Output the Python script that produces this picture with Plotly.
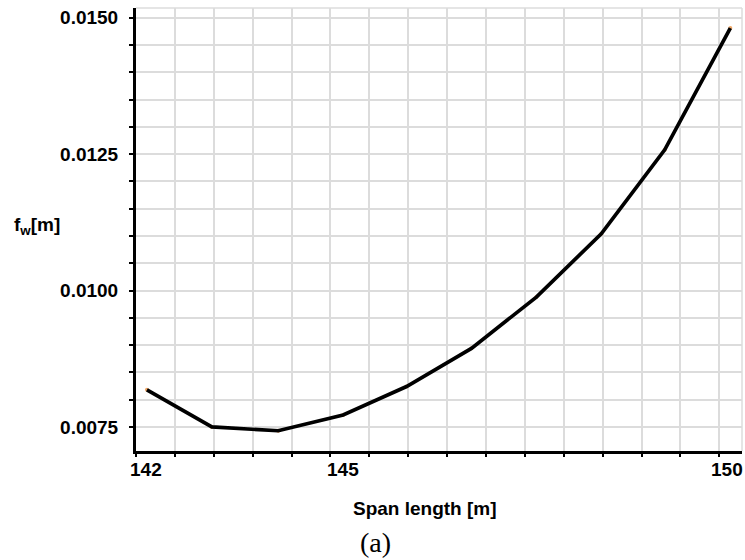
import plotly.graph_objects as go

# Span length [m] and the corresponding f_w [m]
span_length = [142.0, 142.89, 143.8, 144.69, 145.56, 146.45, 147.34, 148.23, 149.1, 150.0]
fw = [0.00818, 0.00750, 0.00743, 0.00772, 0.00824, 0.00894, 0.00988, 0.01104, 0.01258, 0.01481]

x_tick_values = [142, 145, 150]
x_tick_labels = ["142", "145", "150"]
y_tick_values = [0.0075, 0.0100, 0.0125, 0.0150]
y_tick_labels = ["0.0075", "0.0100", "0.0125", "0.0150"]

x_title = "Span length [m]"
y_title = "f<sub>w</sub>[m]"
caption = "(a)"

SANS = "Liberation Sans, Arial, sans-serif"
GRID = "#dcdcdc"

W, H = 745, 560
ML, MR, MT, MB = 136, 3, 8, 109
PW, PH = W - ML - MR, H - MT - MB


def px_to_paper(px, py):
    """Convert page pixel coordinates to paper coordinates of the plot area."""
    return (px - ML) / PW, (H - MB - py) / PH


fig = go.Figure()

# faint vertex dots beneath the curve
fig.add_trace(go.Scatter(
    x=span_length, y=fw, mode="markers",
    marker=dict(size=4, color="#f0a868"), hoverinfo="skip", showlegend=False,
))
fig.add_trace(go.Scatter(
    x=span_length, y=fw, mode="lines",
    line=dict(color="#000000", width=3.7), showlegend=False,
))

fig.update_xaxes(
    range=[141.85, 150.16],
    tickmode="array", tickvals=x_tick_values, showticklabels=False, ticks="",
    showgrid=False, zeroline=False,
    showline=True, linecolor="#000000", linewidth=3,
    minor=dict(tickmode="linear", tick0=141.85, dtick=0.5333,
               showgrid=True, gridcolor=GRID, gridwidth=1.5,
               ticks="outside", ticklen=3, tickcolor="#000000", tickwidth=1.5),
)
fig.update_yaxes(
    range=[0.007059, 0.015178],
    tickmode="array", tickvals=y_tick_values, ticktext=y_tick_labels,
    ticks="outside", ticklen=4, tickcolor="#000000", tickwidth=1.5,
    ticklabelstandoff=7,
    tickfont=dict(family=SANS, size=19, color="#000000", weight="bold"),
    showgrid=True, gridcolor=GRID, gridwidth=1.5, zeroline=False,
    showline=True, linecolor="#000000", linewidth=3,
    minor=dict(tickmode="linear", tick0=0.0075, dtick=0.0005,
               showgrid=True, gridcolor=GRID, gridwidth=1.5,
               ticks="outside", ticklen=4, tickcolor="#000000", tickwidth=1.5),
)

# light frame on the top and right edges of the plotting area
fig.add_shape(type="line", xref="paper", yref="paper", x0=0, x1=1, y0=1, y1=1,
              line=dict(color=GRID, width=1.5))
fig.add_shape(type="line", xref="paper", yref="paper", x0=1, x1=1, y0=0, y1=1,
              line=dict(color=GRID, width=1.5))

# x tick labels
label_anchor = ["center", "right", "center"]
label_shift = [-1, -5, -3]
for val, txt, anc, sh in zip(x_tick_values, x_tick_labels, label_anchor, label_shift):
    fig.add_annotation(x=val, y=0, xref="x", yref="paper", text=txt, showarrow=False,
                       xanchor=anc, yanchor="top", xshift=sh, yshift=-6,
                       font=dict(family=SANS, size=19, color="#000000", weight="bold"))

tx, ty = px_to_paper(425, 508)
fig.add_annotation(x=tx, y=ty, xref="paper", yref="paper", text=x_title,
                   showarrow=False, xanchor="center", yanchor="middle",
                   font=dict(family=SANS, size=19, color="#000000", weight="bold"))
yx, yy = px_to_paper(12, 226)
fig.add_annotation(x=yx, y=yy, xref="paper", yref="paper", text=y_title,
                   showarrow=False, xanchor="left", yanchor="middle",
                   font=dict(family=SANS, size=19, color="#000000", weight="bold"))
cx, cy = px_to_paper(375, 542)
fig.add_annotation(x=cx, y=cy, xref="paper", yref="paper", text=caption,
                   showarrow=False, xanchor="center", yanchor="middle",
                   font=dict(family="Liberation Serif, Times New Roman, serif",
                             size=28, color="#000000"))

fig.update_layout(
    width=W, height=H,
    margin=dict(l=ML, r=MR, t=MT, b=MB),
    paper_bgcolor="#ffffff", plot_bgcolor="#ffffff",
)

fig.write_html("out.html")
